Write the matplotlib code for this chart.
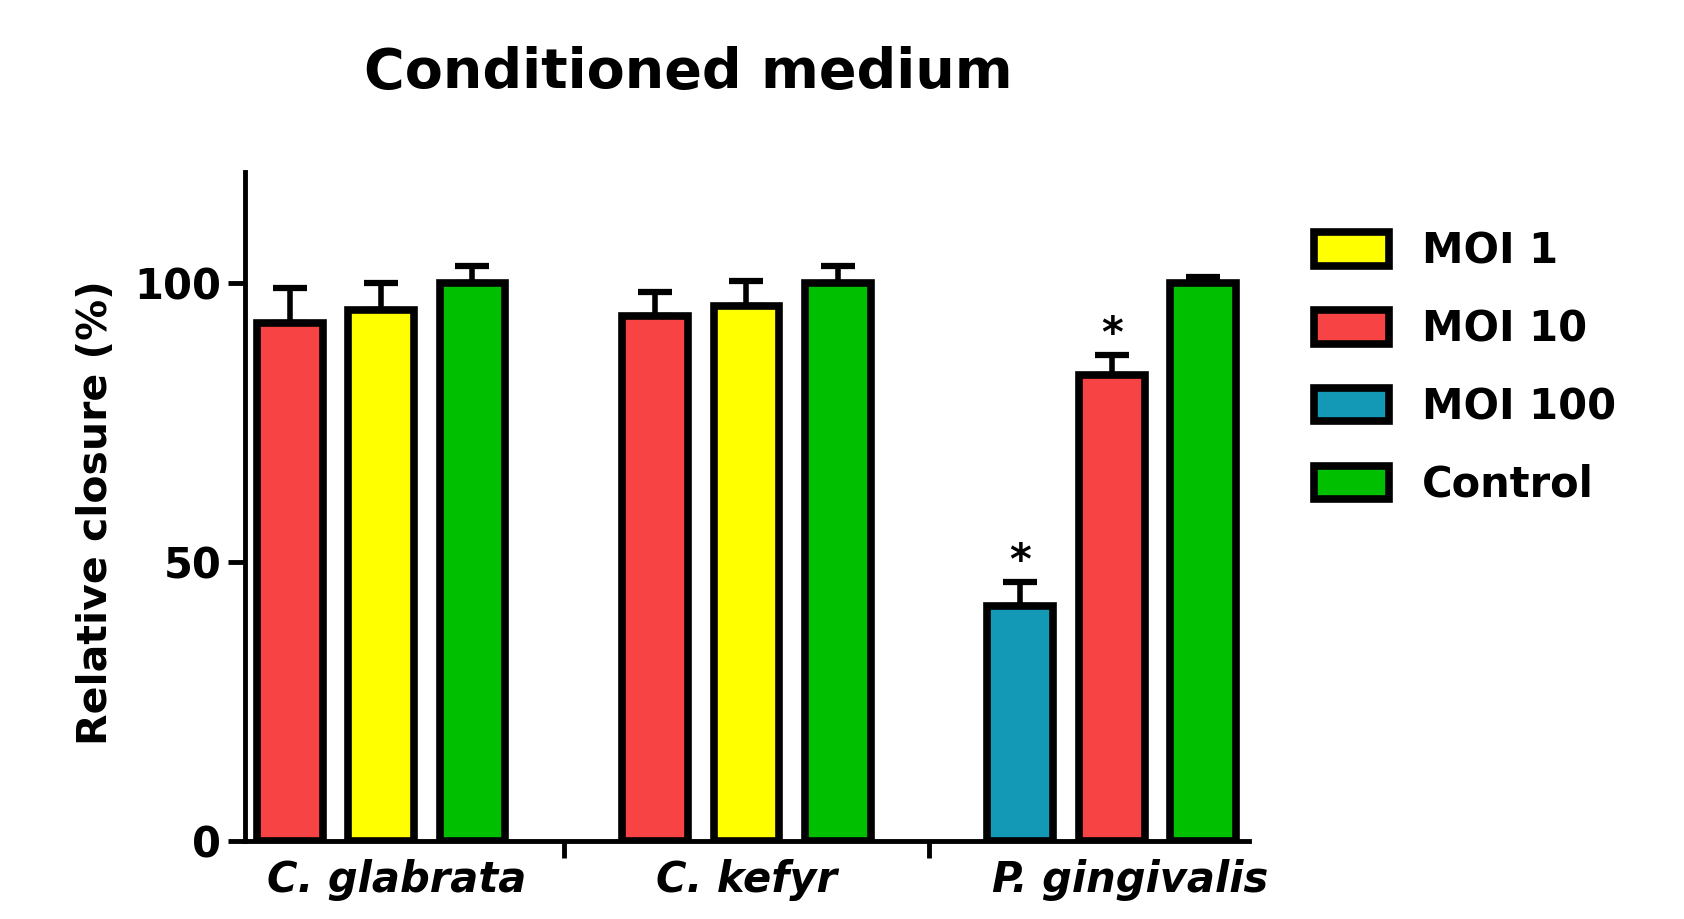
import matplotlib
matplotlib.use("Agg")
import matplotlib.pyplot as plt
from matplotlib.patches import Patch
import numpy as np

plt.rcParams['font.family'] = ['DejaVu Sans']
plt.rcParams['font.weight'] = 'bold'

# relative wound closure (%) after treatment with conditioned medium
groups = ["C. glabrata", "C. kefyr", "P. gingivalis"]

cg_conditions = ["MOI 10", "MOI 1", "Control"]
cg_mean = [92.9, 95.3, 100.0]
cg_err = [6.3, 4.8, 3.2]

ck_conditions = ["MOI 10", "MOI 1", "Control"]
ck_mean = [94.1, 96.0, 100.0]
ck_err = [4.3, 4.5, 3.2]

pg_conditions = ["MOI 100", "MOI 10", "Control"]
pg_mean = [42.1, 83.6, 100.0]
pg_err = [4.3, 3.6, 1.2]
pg_signif = ["*", "*", ""]

legend_labels = ["MOI 1", "MOI 10", "MOI 100", "Control"]
colors = {"MOI 1": "#FFFF00", "MOI 10": "#F74343",
          "MOI 100": "#1398B5", "Control": "#00BE00"}

fig = plt.figure(figsize=(16.84, 9.19), dpi=100)
ax = fig.add_axes([0.1455, 0.085, 0.596, 0.728])

edge_lw = 5.5
data = [(cg_conditions, cg_mean, cg_err, ["", "", ""]),
        (ck_conditions, ck_mean, ck_err, ["", "", ""]),
        (pg_conditions, pg_mean, pg_err, pg_signif)]
for gi, (conds, means, errs, marks) in enumerate(data):
    x = gi * 4 + np.arange(3)
    ax.errorbar(x, means, yerr=[np.zeros(3), errs], fmt='none', ecolor='black',
                elinewidth=4, capsize=12, capthick=4.5, zorder=1)
    ax.bar(x, means, width=0.72, color=[colors[c] for c in conds],
           edgecolor='black', linewidth=edge_lw, zorder=2)
    for xi, m, e, s in zip(x, means, errs, marks):
        if s:
            ax.text(xi, m + e + 3.6, s, ha='center', va='center',
                    fontsize=30, fontweight='bold')

ax.set_xlim(-0.49, 10.5)
ax.set_ylim(0, 120)
ax.set_yticks([0, 50, 100])
ax.set_yticklabels(["0", "50", "100"], fontsize=30, fontweight='bold')
ax.set_xticks([3, 7])
ax.set_xticklabels([])
ax.set_xticks([1.17, 5, 9.2], minor=True)
ax.set_xticklabels(groups, minor=True, fontsize=30, fontweight='bold',
                   fontstyle='italic')
ax.tick_params(axis='x', which='major', length=12, width=3.5, direction='out')
ax.tick_params(axis='x', which='minor', length=0, pad=13)
ax.tick_params(axis='y', length=12, width=3.5, direction='out', pad=5)

for side in ['top', 'right']:
    ax.spines[side].set_visible(False)
for side in ['left', 'bottom']:
    ax.spines[side].set_linewidth(3.5)

ax.set_ylabel("Relative closure (%)", fontsize=29.5, fontweight='bold')
ax.yaxis.set_label_coords(-0.129, 0.49)
fig.text(0.409, 0.921, "Conditioned medium", ha='center', va='center',
         fontsize=40, fontweight='bold')

handles = [Patch(facecolor=colors[l], edgecolor='black', linewidth=edge_lw)
           for l in legend_labels]
fig.legend(handles, legend_labels, loc='upper left',
           bbox_to_anchor=(0.758, 0.79), frameon=False,
           prop={'size': 30, 'weight': 'bold'},
           handlelength=1.8, handleheight=0.85, handletextpad=0.8,
           labelspacing=0.86)

fig.savefig("out.png", dpi=100)
